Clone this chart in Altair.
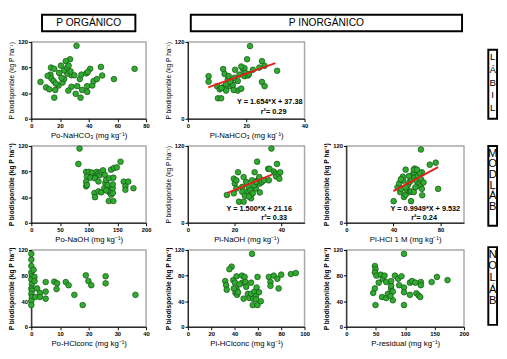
import altair as alt
import pandas as pd

FONT = "Liberation Sans"
GREEN = "#2fab2f"
EDGE = "#164f16"
RED = "#e3211c"
FRAME = "#a8a8a8"
YTITLE = "P biodisponible (kg P ha\u207b\u00b9)"
Y_TICKS = [0, 40, 80, 120]

# ---- data ----
po_nahco3_x = [31.5, 6.4, 72, 57.6, 48.5, 49.4, 41, 27, 24, 20.6, 13.7, 16, 16, 34.3, 30.9, 10.3, 12.6, 16.7, 19, 21.7,
               22.9, 28, 25.8, 35.4, 32, 33.8, 34.9, 38.9, 39, 42.5, 43.4, 45.7, 38.4, 39.3, 27.9, 25, 22.9, 19.4, 13.3, 11.4,
               14, 15.5, 17, 21, 25, 27.4, 26, 30]
po_nahco3_y = [114, 57.5, 78, 62, 81, 67.6, 78, 93, 90, 83, 80, 78, 33, 33, 39, 49, 46, 45, 52, 56.5,
               62, 50, 44, 45, 51, 62, 69, 51, 42, 52, 59, 62, 71, 73, 68, 70.6, 75.6, 71.6, 69, 67,
               63, 59, 55, 64, 80, 74, 83, 68]

pi_nahco3_x = [21.3, 20.3, 30.6, 26.3, 25.4, 25.4, 26.3, 7.1, 7.1, 10, 10.3, 11.4, 10.9, 12, 12.1, 12.6, 13.7, 14, 14.3, 15,
               16, 16.2, 17.1, 17.7, 17.1, 18.3, 18.9, 19.4, 19.7, 19.4, 20.6, 22.3, 18.3, 15.4, 13.1, 15.7, 13.1,
               11.5, 21, 24.5, 14.5]
pi_nahco3_y = [113.5, 93, 75, 82.7, 90, 57.5, 51, 66.5, 58, 51, 32, 32, 46, 49, 77.7, 70, 61.5, 66.5, 51, 55.5,
               64, 76.6, 59, 69, 44, 47, 77.7, 79, 71.6, 66.5, 67.6, 76.6, 81.7, 52.5, 44, 45, 54,
               48, 70, 80, 58]

po_naoh_x = [84, 82, 95.5, 100, 105.5, 97, 95.5, 95.5, 97, 103, 111, 114, 117, 119, 122, 125, 128, 111, 117, 110,
             111, 117, 122, 127, 129, 130.5, 133, 136, 138, 136, 139, 135, 143, 142, 142, 142, 143, 139, 144, 149,
             155.5, 161, 164, 164, 169, 178, 130.5]
po_naoh_y = [116, 92, 79.5, 79.5, 78.5, 72, 64, 57, 59, 70.5, 72, 79.5, 77, 74.5, 79.5, 82, 75, 69.6, 64.6, 46.5,
             40, 49, 47.6, 54, 62, 67, 59, 69.6, 51.6, 47.6, 44, 34, 34, 46.6, 54, 60, 70.5, 83, 85.6, 86.6,
             95.4, 64.3, 57, 51.6, 64.3, 54, 50.5]

pi_naoh_x = [16.7, 19.7, 20.1, 20.8, 21.5, 21.9, 23.9, 23.3, 23.9, 25, 25.4, 26.1, 26.8, 27.1, 27.8, 27.5, 28.6, 29.2, 29.7, 29.9,
             30.6, 30.8, 31.7, 30.8, 32.6, 34.4, 35, 35.8, 36.8, 37.5, 38.2, 37.8, 38.9, 39.2, 39.6, 23.3, 24.4, 26.1, 28.5, 29.2,
             34.7, 20.8, 19.7]
pi_naoh_y = [43.4, 69, 61.3, 66.4, 79, 33, 33, 56, 71.5, 63.8, 48.5, 56, 51, 38.3, 46, 66.4, 79, 53.6, 95.5, 66.4,
             71.5, 61.3, 63.8, 47.5, 66.4, 84.3, 84.3, 116, 80, 76.6, 92, 72.5, 76.6, 69, 79, 48.5, 42.4, 41, 58.7, 63.8,
             66.4, 53.6, 46]

pi_hcl_x = [63.4, 40.2, 55, 78, 76, 70.9, 50.4, 58.1, 64.2, 48, 43.5, 44.9, 45.7, 46.8, 49, 50.4, 51.8, 52.3, 54, 55.1,
            55.9, 57.3, 57.9, 59.5, 60.6, 61.4, 63, 63.4, 64.2, 64.5, 62.3, 65.6, 54, 55, 50.4, 48.5, 46.3, 57.3, 60, 53.2,
            58.7, 57.3]
pi_hcl_y = [114.5, 33.8, 33.8, 53, 94, 90.8, 83, 84.7, 79, 72, 55.5, 61.5, 48, 53, 40.3, 44, 50.5, 59, 64, 68,
            74, 78, 70.6, 65.6, 73, 60.5, 57, 68, 53, 43, 78, 63, 48, 49, 55.5, 66, 68, 83, 83, 73,
            55.5, 48]

po_hclc_x = [0, 0, 0, 0.2, 0, 0.2, 0, 0.2, 0, 0.2, 0, 0, 0.8, 1.1, 1.1, 1.3, 2, 3, 3, 5,
             5, 5, 8, 9, 8.8, 12, 13, 15, 17.9, 19, 19.9, 20.9, 25.9, 25.9, 36.3, 0]
po_hclc_y = [114, 95, 85, 79, 74, 66.5, 60, 56.5, 51.5, 46.5, 40.5, 34, 89, 78, 71.5, 46.5, 60, 53, 46.5, 70,
             55, 44, 70.5, 68, 59, 70, 65, 50, 34, 80.5, 71.5, 65, 79, 68, 50, 105]

pi_hclc_x = [55, 37.5, 35.6, 32, 32.8, 33.3, 38.9, 40.3, 41.7, 41.7, 40.8, 42.2, 43, 46.4, 46.7, 47.8, 48.6, 49.4, 50, 51.4,
             52.8, 54.2, 54.2, 55.6, 56, 57, 58.3, 58.9, 59.7, 59.7, 61, 62.5, 58.3, 69.4, 70.8, 70.8, 73.6, 76.7, 77.8, 80,
             88.3, 92.5, 39.4, 44.4]
pi_hclc_y = [114, 94, 90, 71.5, 65, 58, 73, 69, 79, 59, 53, 50, 54, 80, 69, 44, 78, 70, 62.5, 51.5,
             45, 69, 51.5, 34, 44, 55, 48, 61.5, 78, 34, 54, 40, 43, 78, 70, 64, 80, 75, 60, 81.5,
             82.5, 84, 60, 66.5]

p_res_x = [98, 48.5, 49.6, 48.5, 51, 45.7, 48.5, 49.6, 55, 58.4, 62, 65, 67.8, 60.6, 67.8, 70.5, 76, 76, 76, 79,
           79, 82.6, 88, 89.8, 93.7, 98, 98, 98, 108, 108, 111.8, 117.4, 119, 123, 125.6, 126.7, 126.7, 145, 154, 172, 75]
p_res_y = [114, 95, 90, 85, 80, 53, 60, 34, 69, 81.5, 75, 80, 70, 46.5, 45, 51.5, 59, 64, 71.5, 55,
           41.5, 80, 75, 65, 79, 61.5, 54, 34, 50, 69, 71.5, 69, 52.5, 49, 46.5, 70, 65, 70, 78, 73, 48]

# regressions: slope, intercept, x range
reg_pi_nahco3 = (1.654, 37.38, [7, 30])
reg_pi_naoh = (1.500, 21.16, [17, 36])
reg_pi_hcl = (0.9949, 9.532, [40, 78])

eq_pi_nahco3 = ["Y = 1.654*X + 37.38", "r\u00b2= 0.29"]
eq_pi_nahco3_x = [39.3, 33.8]
eq_pi_naoh = ["Y = 1.500*X + 21.16", "r\u00b2= 0.33"]
eq_pi_naoh_x = [44.6, 42.5]
eq_pi_hcl = ["Y = 0.9949*X + 9.532", "r\u00b2= 0.24"]
eq_pi_hcl_x = [96.7, 77.0]
eq_y_top = [25.8, 10.6]
eq_y_mid = [21.0, 7.6]

headers = ["P ORG\u00c1NICO", "P INORG\u00c1NICO"]
row_labels = {
    "LABIL": ["L", "\u00c1", "B", "I", "L"],
    "MOD": ["M", "O", "D", "\u00a0", "L", "\u00c1", "B"],
    "NO": ["N", "O", "\u00a0", "L", "\u00c1", "B"],
}

H = 79
W1, W2, W3 = 118, 120, 121


def panel(xs, ys, xtitle, xdom, xticks, width, ybold, extra=()):
    df = pd.DataFrame({"x": xs, "y": ys})
    pts = alt.Chart(df).mark_point(
        filled=True, fill=GREEN, stroke=EDGE, strokeWidth=0.7, size=34, opacity=1
    ).encode(
        x=alt.X("x:Q", scale=alt.Scale(domain=xdom, nice=False, zero=False),
                axis=alt.Axis(values=xticks, title=xtitle)),
        y=alt.Y("y:Q", scale=alt.Scale(domain=[0, 120], nice=False),
                axis=alt.Axis(values=Y_TICKS, title=YTITLE,
                              titleFontWeight="bold" if ybold else "normal")),
    )
    return alt.layer(pts, *extra).properties(width=width, height=H)


def reg_layers(reg, eq, eqx, eqy):
    m, b, ends = reg
    dfl = pd.DataFrame({"x": ends, "y": [m * v + b for v in ends]})
    line = alt.Chart(dfl).mark_line(color=RED, strokeWidth=2).encode(x="x:Q", y="y:Q")
    dft = pd.DataFrame({"x": eqx, "y": eqy, "t": eq})
    txt = alt.Chart(dft).mark_text(
        align="right", baseline="middle", fontSize=7.5, fontWeight="bold", font=FONT, color="black"
    ).encode(x="x:Q", y="y:Q", text="t:N")
    return [line, txt]


def header_layers(title, x0, x1):
    hdf = pd.DataFrame({"t": [title]})
    rect = alt.Chart(hdf).mark_rect(fill="white", stroke="black", strokeWidth=2).encode(
        x=alt.value(x0), x2=alt.value(x1), y=alt.value(-28), y2=alt.value(-11))
    txt = alt.Chart(hdf).mark_text(fontSize=10.5, font=FONT, color="black", baseline="middle").encode(
        x=alt.value((x0 + x1) / 2), y=alt.value(-19.5), text="t:N")
    return [rect, txt]


def label_layers(key, y0, y1, ty, fs, lh):
    ldf = pd.DataFrame({"k": [key]})
    rect = alt.Chart(ldf).mark_rect(fill="white", stroke="black", strokeWidth=2).encode(
        x=alt.value(146), x2=alt.value(155), y=alt.value(y0), y2=alt.value(y1))
    txt = alt.Chart(ldf).mark_text(
        text=row_labels[key], lineHeight=lh, fontSize=fs, font=FONT, color="black",
        baseline="top", align="center"
    ).encode(x=alt.value(150.5), y=alt.value(ty))
    return [rect, txt]


SUP = "\u207b\u00b9"
p1 = panel(po_nahco3_x, po_nahco3_y, f"Po-NaHCO\u2083 (mg kg{SUP})", [0, 80], [0, 20, 40, 60, 80], W1, False,
           header_layers(headers[0], 11, 107))
p2 = panel(pi_nahco3_x, pi_nahco3_y, f"Pi-NaHCO\u2083 (mg kg{SUP})", [0, 40], [0, 10, 20, 30, 40], W2, False,
           reg_layers(reg_pi_nahco3, eq_pi_nahco3, eq_pi_nahco3_x, eq_y_top) + header_layers(headers[1], 3, 282))
p3 = alt.layer(*label_layers("LABIL", 8, 79, 11, 10, 13)).properties(
    width=W3, height=H, view=alt.ViewBackground(stroke="transparent"))

p4 = panel(po_naoh_x, po_naoh_y, f"Po-NaOH (mg kg{SUP})", [0, 200], [0, 50, 100, 150, 200], W1, True)
p5 = panel(pi_naoh_x, pi_naoh_y, f"Pi-NaOH (mg kg{SUP})", [0, 50], [0, 10, 20, 30, 40, 50], W2, False,
           reg_layers(reg_pi_naoh, eq_pi_naoh, eq_pi_naoh_x, eq_y_mid))
p6 = panel(pi_hcl_x, pi_hcl_y, f"Pi-HCl 1 M (mg kg{SUP})", [0, 100], [0, 20, 40, 60, 80, 100], W3, True,
           reg_layers(reg_pi_hcl, eq_pi_hcl, eq_pi_hcl_x, eq_y_mid) + label_layers("MOD", 0, 82, 2, 11.5, 11))

p7 = panel(po_hclc_x, po_hclc_y, f"Po-HClconc (mg kg{SUP})", [0, 40], [0, 10, 20, 30, 40], W1, True)
p8 = panel(pi_hclc_x, pi_hclc_y, f"Pi-HClconc (mg kg{SUP})", [0, 100], [0, 20, 40, 60, 80, 100], W2, True)
p9 = panel(p_res_x, p_res_y, f"P-residual (mg kg{SUP})", [0, 200], [0, 50, 100, 150, 200], W3, True,
           label_layers("NO", -3, 77, -1, 11.5, 12))

chart = alt.concat(
    p1, p2, p3, p4, p5, p6, p7, p8, p9,
    columns=3, spacing={"row": 28, "column": 43}, bounds="flush", align="each",
).properties(
    padding=0
).configure_view(
    stroke=FRAME, strokeWidth=1.5
).configure_axis(
    labelFont=FONT, titleFont=FONT, labelFontSize=6, labelFontWeight="bold",
    labelColor="black", titleColor="black", domainColor="black", tickColor="black",
    tickSize=3, labelPadding=1, grid=False, labelFlush=False, labelOverlap=False, domainWidth=1,
).configure_axisX(
    titleFontSize=8, titleFontWeight="normal", titlePadding=3
).configure_axisY(
    titleFontSize=6.8, titlePadding=3
)

chart.save("out.html", embed_options={"renderer": "svg", "actions": False})
